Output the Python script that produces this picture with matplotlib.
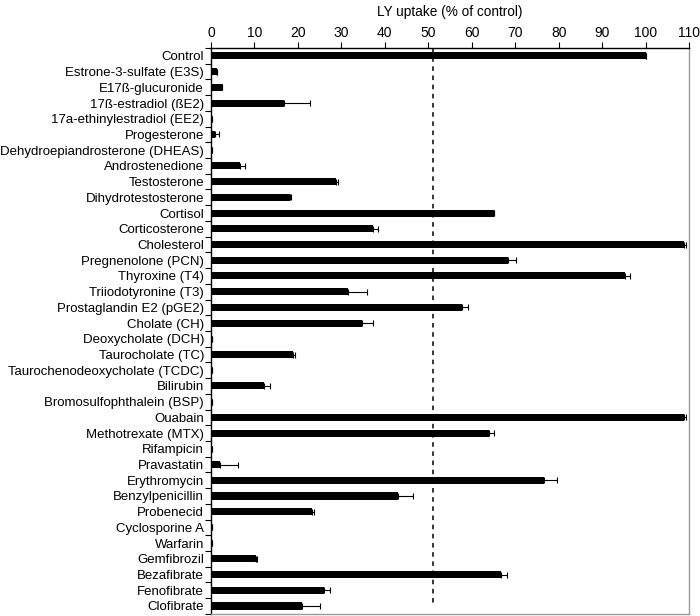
#!/usr/bin/env python3
"""
Horizontal bar chart of LY uptake (% of control) for a panel of compounds.
"""

import numpy as np
import matplotlib
matplotlib.use("Agg")
import matplotlib.pyplot as plt

compounds = [
    "Control", "Estrone-3-sulfate (E3S)", "E17ß-glucuronide",
    "17ß-estradiol (ßE2)", "17a-ethinylestradiol (EE2)", "Progesterone",
    "Dehydroepiandrosterone (DHEAS)", "Androstenedione", "Testosterone",
    "Dihydrotestosterone", "Cortisol", "Corticosterone", "Cholesterol",
    "Pregnenolone (PCN)", "Thyroxine (T4)", "Triiodotyronine (T3)",
    "Prostaglandin E2 (pGE2)", "Cholate (CH)", "Deoxycholate (DCH)",
    "Taurocholate (TC)", "Taurochenodeoxycholate (TCDC)", "Bilirubin",
    "Bromosulfophthalein (BSP)", "Ouabain", "Methotrexate (MTX)",
    "Rifampicin", "Pravastatin", "Erythromycin", "Benzylpenicillin",
    "Probenecid", "Cyclosporine A", "Warfarin", "Gemfibrozil",
    "Bezafibrate", "Fenofibrate", "Clofibrate",
]
uptake = [
    100.2, 1.4, 2.6, 16.9, 0.2, 1.0, 0.2, 6.6, 28.8, 18.2, 65.2, 37.3,
    108.9, 68.3, 95.3, 31.5, 57.7, 34.8, 0.3, 18.9, 0.2, 12.2, 0.2, 108.9,
    63.9, 0.3, 2.1, 76.7, 43.0, 23.2, 0.3, 0.3, 10.4, 66.7, 25.9, 21.0,
]
sem = [
    0.0, 0.0, 0.0, 5.9, 0.0, 0.8, 0.0, 1.3, 0.4, 0.3, 0.0, 1.2,
    0.4, 2.0, 1.2, 4.4, 1.5, 2.5, 0.0, 0.4, 0.0, 1.4, 0.0, 0.4,
    1.3, 0.0, 4.2, 3.0, 3.4, 0.6, 0.0, 0.0, 0.2, 1.4, 1.6, 4.0,
]
x_ticks = np.arange(0, 111, 10)
threshold = 51

plt.rcParams['font.family'] = ['Liberation Sans', 'DejaVu Sans']

fig = plt.figure(figsize=(7.0, 6.16), dpi=100)
ax = fig.add_axes([0.3014, 0.0035, 0.6829, 0.9185])

y = np.arange(len(compounds))
errs = [np.zeros(len(sem)), sem]
ax.barh(y, uptake, height=0.45, color='black')
ax.errorbar(uptake, y, xerr=errs, fmt='none', ecolor='black',
            elinewidth=0.8, capsize=2.2, capthick=0.8)

# dashed reference line, stops just above the last bar
ax.plot([threshold, threshold], [-0.5, 34.9], color='black',
        linestyle=(0, (3, 3)), linewidth=1.1)

ax.set_xlim(0, 110)
ax.set_ylim(len(compounds) - 0.5, -0.5)

# x axis on top
ax.xaxis.tick_top()
ax.xaxis.set_label_position('top')
ax.set_xticks(x_ticks)
ax.tick_params(axis='x', direction='out', length=4, width=0.8,
               labelsize=10, pad=2, colors='black')
ax.set_xlabel("LY uptake (% of control)", fontsize=9.8, labelpad=7)

# category labels, ticks sit between the bars
ax.set_yticks(y)
ax.set_yticklabels(compounds, fontsize=9.5)
ax.tick_params(axis='y', which='major', length=0, pad=5)
ax.set_yticks(np.arange(-0.5, len(compounds), 1), minor=True)
ax.tick_params(axis='y', which='minor', direction='out', length=4, width=0.8)

for side in ['left', 'top']:
    ax.spines[side].set_color('black')
    ax.spines[side].set_linewidth(1.0)
for side in ['right', 'bottom']:
    ax.spines[side].set_color('#9a9a9a')
    ax.spines[side].set_linewidth(1.0)

fig.savefig("out.png", dpi=100)
